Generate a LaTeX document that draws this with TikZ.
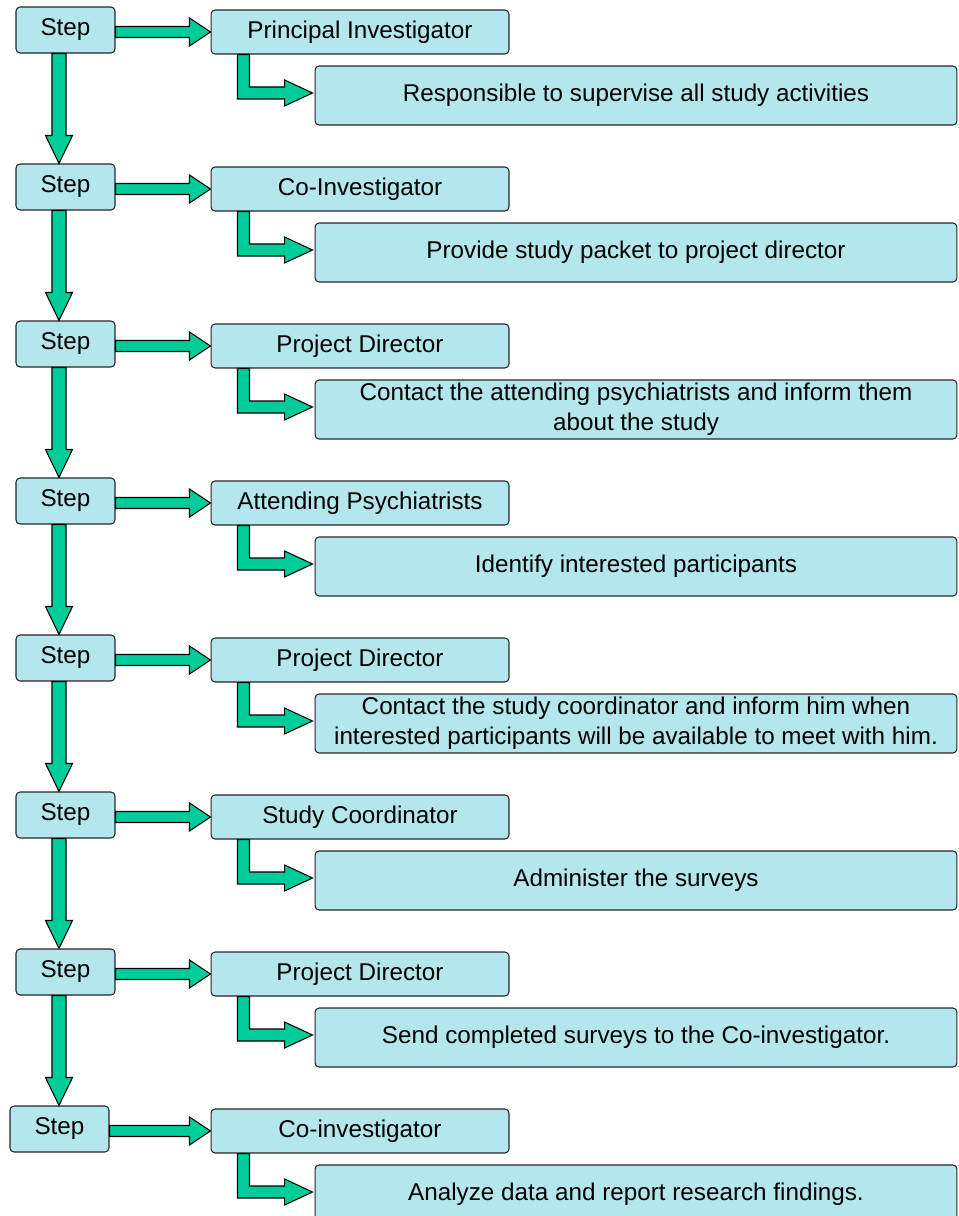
\documentclass[tikz,border=0pt]{standalone}
\usepackage{fontspec}
\setmainfont{Liberation Sans}
\usetikzlibrary{calc}
\definecolor{boxcyan}{RGB}{180,230,237}
\definecolor{arrowgreen}{RGB}{0,204,153}
\tikzset{
  x=0.02cm, y=-0.02cm,
  box/.style={draw=black!85,fill=boxcyan,line width=0.6pt,rounded corners=2.3pt,
    inner sep=0pt,align=center,font=\fontsize{13.8}{17}\selectfont},
  stepbox/.style={box,minimum width=1.98cm,minimum height=0.92cm},
  rolebox/.style={box,minimum width=5.96cm,minimum height=0.88cm},
  taskbox/.style={box,minimum width=12.84cm,minimum height=1.18cm},
  blockarrow/.style={fill=arrowgreen,draw=black,line width=0.6pt,line join=miter},
}

\begin{document}
\begin{tikzpicture}
  \clip (0,0) rectangle (959,1216);
  \foreach \k/\sx/\role/\task in {
      0/65.5/{Principal Investigator}/{Responsible to supervise all study activities},
      1/65.5/{Co-Investigator}/{Provide study packet to project director},
      2/65.5/{Project Director}/{Contact the attending psychiatrists and inform them\\about the study},
      3/65.5/{Attending Psychiatrists}/{Identify interested participants},
      4/65.5/{Project Director}/{Contact the study coordinator and inform him when\\interested participants will be available to meet with him.},
      5/65.5/{Study Coordinator}/{Administer the surveys},
      6/65.5/{Project Director}/{Send completed surveys to the Co-investigator.},
      7/59.5/{Co-investigator}/{Analyze data and report research findings.}} {
    \node[stepbox] (step\k) at (\sx,{30+157*\k}) {Step};
    \node[rolebox] (role\k) at (360,{32+157*\k}) {\role};
    \node[taskbox] (task\k) at (636,{95.5+157*\k}) {\task};
  }
  % step -> role, role -> task
  \foreach \k in {0,...,7} {
    \coordinate (hb) at (role\k.west);
    \coordinate (ha) at (step\k.east |- hb);
    \draw[blockarrow] ($(ha)+(0,-5.5)$) -- ($(hb)+(-21,-5.5)$) -- ($(hb)+(-21,-14)$)
      -- (hb) -- ($(hb)+(-21,14)$) -- ($(hb)+(-21,5.5)$) -- ($(ha)+(0,5.5)$) -- cycle;
    \coordinate (ea) at ($(role\k.south west)+(33,0)$);
    \coordinate (eb) at ($(task\k.west)+(-2,-2.5)$);
    \coordinate (ec) at (ea |- eb);
    \draw[blockarrow] ($(ea)+(-6,0)$) -- ($(ec)+(-6,6)$) -- ($(eb)+(-28,6)$)
      -- ($(eb)+(-28,13)$) -- (eb) -- ($(eb)+(-28,-13)$) -- ($(eb)+(-28,-6)$)
      -- ($(ec)+(6,-6)$) -- ($(ea)+(6,0)$) -- cycle;
  }
  % step -> next step
  \foreach \k in {0,...,6} {
    \pgfmathtruncatemacro{\n}{\k+1}
    \coordinate (va) at ($(step\k.south)+(-6.5,0)$);
    \coordinate (vb) at (va |- step\n.north);
    \draw[blockarrow] ($(va)+(-7,0)$) -- ($(vb)+(-7,-28)$) -- ($(vb)+(-13.5,-28)$)
      -- (vb) -- ($(vb)+(13.5,-28)$) -- ($(vb)+(7,-28)$) -- ($(va)+(7,0)$) -- cycle;
  }
\end{tikzpicture}
\end{document}
